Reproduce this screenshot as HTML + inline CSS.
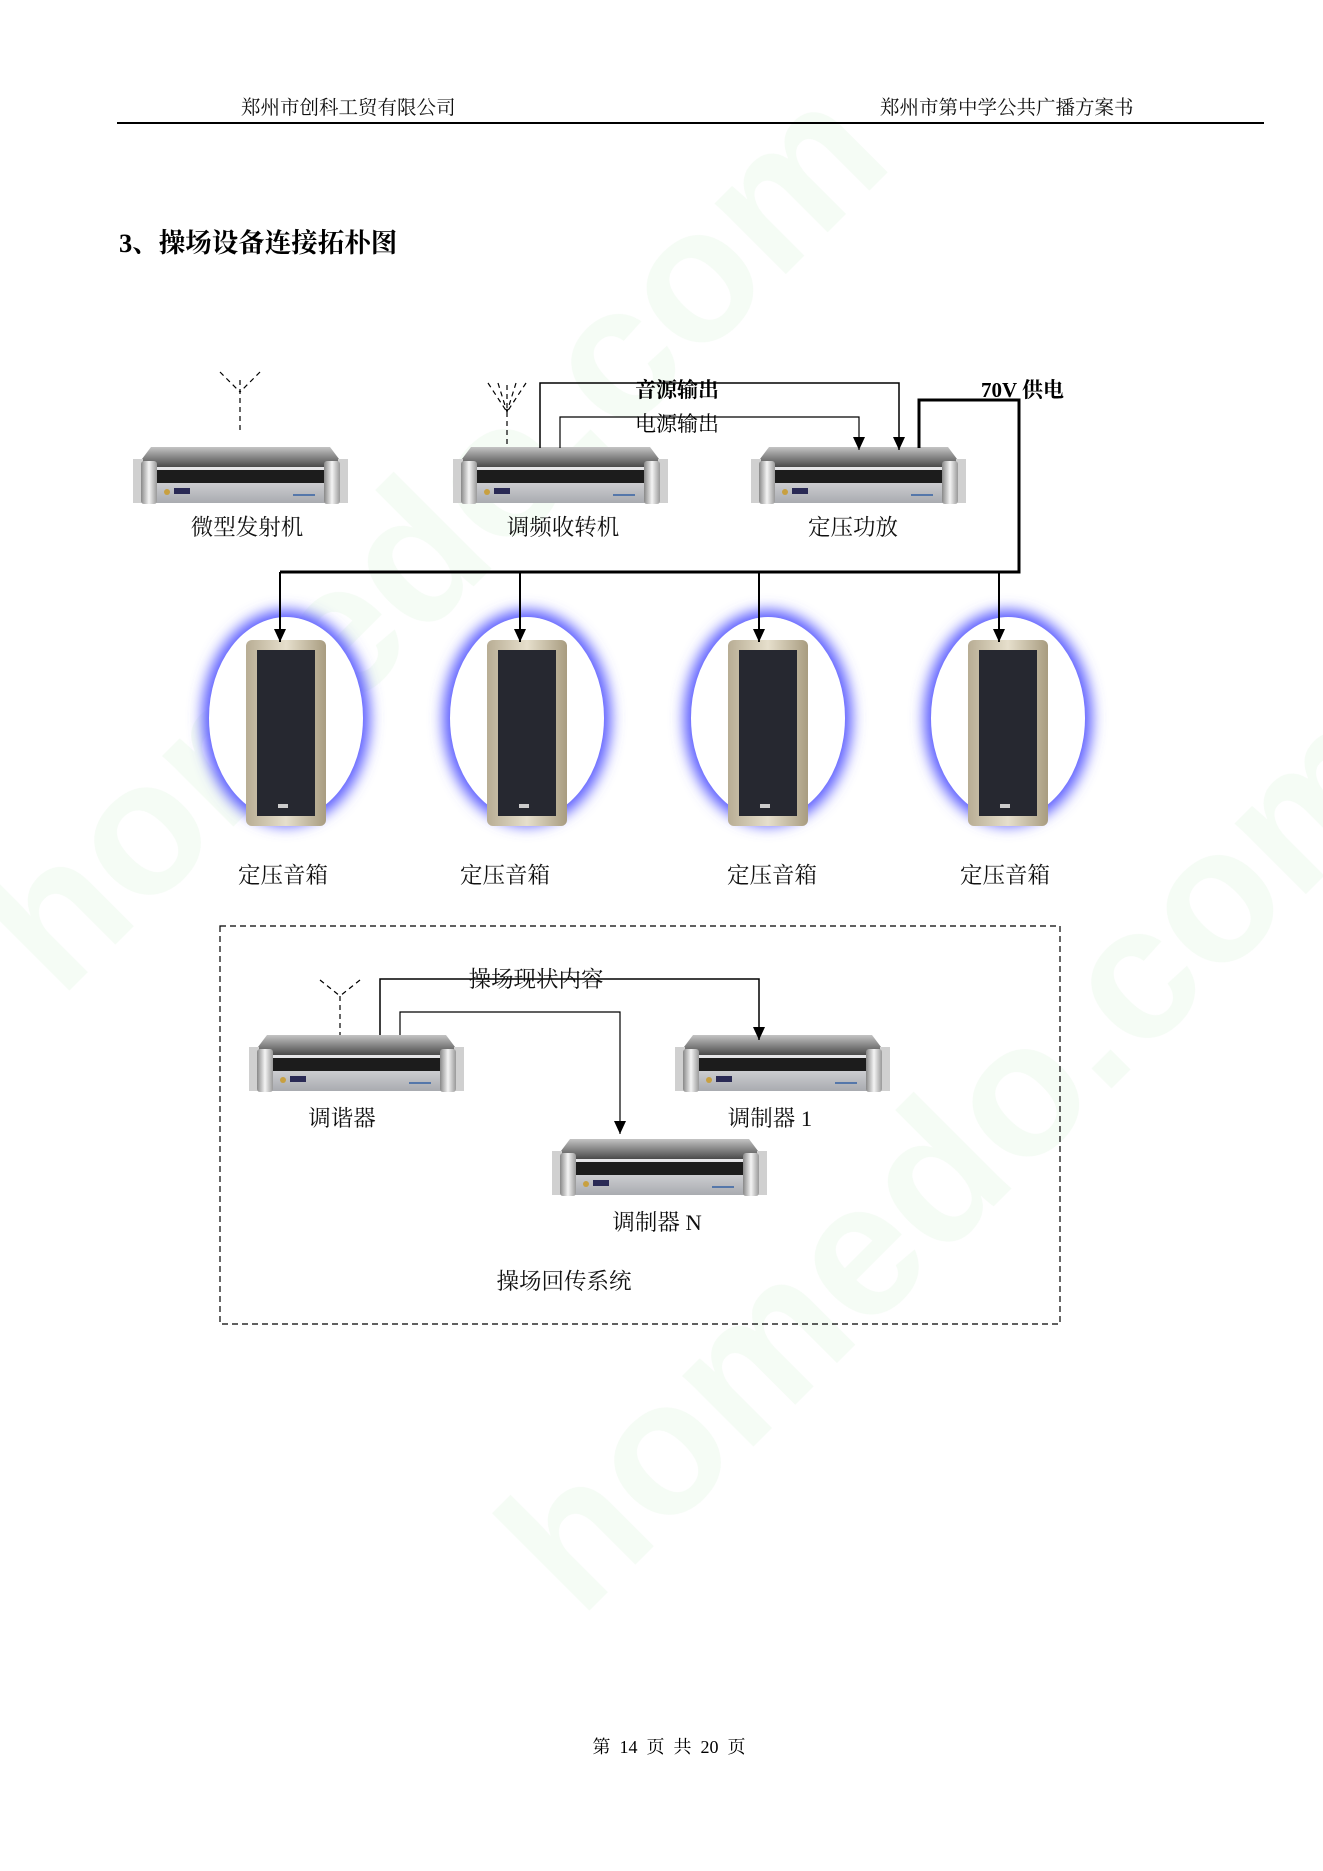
<!DOCTYPE html>
<html><head><meta charset="utf-8"><style>
html,body{margin:0;padding:0;background:#fff;}
body{width:1323px;height:1871px;position:relative;overflow:hidden;font-family:"Liberation Serif","Noto Serif CJK SC","Noto Sans CJK SC",serif;}
</style></head><body>
<svg width="1323" height="1871" viewBox="0 0 1323 1871" xmlns="http://www.w3.org/2000/svg" style="position:absolute;left:0;top:0">
<defs>
<linearGradient id="gt" x1="0" y1="0" x2="0" y2="1"><stop offset="0" stop-color="#c4c4c4"/><stop offset="1" stop-color="#4a4a4a"/></linearGradient>
<linearGradient id="gf" x1="0" y1="0" x2="0" y2="1"><stop offset="0" stop-color="#e8e8ea"/><stop offset="1" stop-color="#a9abb0"/></linearGradient>
<linearGradient id="gh" x1="0" y1="0" x2="1" y2="0"><stop offset="0" stop-color="#888"/><stop offset=".5" stop-color="#f4f4f4"/><stop offset="1" stop-color="#999"/></linearGradient>
<linearGradient id="gs" x1="0" y1="0" x2="1" y2="0"><stop offset="0" stop-color="#b8ad94"/><stop offset=".5" stop-color="#e6dfcc"/><stop offset="1" stop-color="#a89c80"/></linearGradient>
<filter id="blur" x="-30%" y="-30%" width="160%" height="160%"><feGaussianBlur stdDeviation="7"/></filter>
<marker id="ar" markerWidth="14" markerHeight="12" refX="13" refY="6" orient="auto" markerUnits="userSpaceOnUse"><path d="M0,0 L13,6 L0,12 Z" fill="#000"/></marker>
<g id="rack">
<polygon points="18,0 197,0 212,20 3,20" fill="url(#gt)"/>
<rect x="3" y="20" width="209" height="36" fill="url(#gf)"/>
<rect x="24" y="23" width="168" height="13" fill="#1c1c1c"/>
<rect x="0" y="12" width="10" height="44" fill="#d0d0d0"/>
<rect x="205" y="12" width="10" height="44" fill="#d0d0d0"/>
<rect x="8" y="14" width="16" height="43" rx="3" fill="url(#gh)"/>
<rect x="191" y="14" width="16" height="43" rx="3" fill="url(#gh)"/>
<circle cx="34" cy="45" r="3" fill="#c8a040"/>
<rect x="41" y="41" width="16" height="6" fill="#2a2a55"/>
<rect x="160" y="47" width="22" height="2" fill="#5577aa"/>
</g>
<g id="spk">
<ellipse cx="0" cy="0" rx="84" ry="108" fill="#5a5cff" filter="url(#blur)"/>
<ellipse cx="0" cy="0" rx="77" ry="101" fill="#fff"/>
<rect x="-40" y="-78" width="80" height="186" rx="6" fill="url(#gs)"/>
<rect x="-29" y="-68" width="58" height="166" fill="#262830"/>
<rect x="-8" y="86" width="10" height="4" fill="#ccc"/>
</g>
</defs>

<g opacity="0.07" font-family="Liberation Sans, sans-serif" font-weight="bold" font-size="190">
<text x="60" y="1000" transform="rotate(-45 60 1000)" fill="#6c6">homedo.com</text>
<text x="580" y="1620" transform="rotate(-45 580 1620)" fill="#6c6">homedo.com</text>
</g>

<g font-size="19.5" fill="#111">
<text x="241" y="114">郑州市创科工贸有限公司</text>
<text x="880" y="114">郑州市第中学公共广播方案书</text>
</g>
<line x1="117" y1="123" x2="1264" y2="123" stroke="#000" stroke-width="2"/>
<text x="119" y="252" font-size="26.5" font-weight="bold" fill="#000">3、操场设备连接拓朴图</text>

<g stroke="#000" stroke-width="1.2" stroke-dasharray="5,4" fill="none">
<line x1="240" y1="380" x2="240" y2="430"/><line x1="220" y1="372" x2="240" y2="392"/><line x1="260" y1="372" x2="240" y2="392"/>
<line x1="507" y1="385" x2="507" y2="448"/><line x1="488" y1="383" x2="507" y2="412"/><line x1="526" y1="383" x2="507" y2="412"/><line x1="498" y1="383" x2="507" y2="412"/><line x1="516" y1="383" x2="507" y2="412"/>
<line x1="340" y1="996" x2="340" y2="1035"/><line x1="320" y1="980" x2="340" y2="996"/><line x1="360" y1="980" x2="340" y2="996"/>
</g>

<use href="#rack" x="133" y="447"/>
<use href="#rack" x="453" y="447"/>
<use href="#rack" x="751" y="447"/>
<use href="#rack" x="249" y="1035"/>
<use href="#rack" x="675" y="1035"/>
<use href="#rack" x="552" y="1139"/>

<use href="#spk" x="286" y="718"/>
<use href="#spk" x="527" y="718"/>
<use href="#spk" x="768" y="718"/>
<use href="#spk" x="1008" y="718"/>

<g stroke="#000" fill="none">
<polyline points="540,448 540,383 899,383 899,450" stroke-width="1.5" marker-end="url(#ar)"/>
<polyline points="560,448 560,417 859,417 859,450" stroke-width="1.2" marker-end="url(#ar)"/>
<polyline points="919,448 919,400 1019,400 1019,572 280,572" stroke-width="3"/>
<line x1="280" y1="572" x2="280" y2="642" stroke-width="2" marker-end="url(#ar)"/>
<line x1="520" y1="572" x2="520" y2="642" stroke-width="2" marker-end="url(#ar)"/>
<line x1="759" y1="572" x2="759" y2="642" stroke-width="2" marker-end="url(#ar)"/>
<line x1="999" y1="572" x2="999" y2="642" stroke-width="2" marker-end="url(#ar)"/>
<polyline points="380,1035 380,979 759,979 759,1040" stroke-width="1.5" marker-end="url(#ar)"/>
<polyline points="400,1035 400,1012 620,1012 620,1134" stroke-width="1.2" marker-end="url(#ar)"/>
</g>
<g font-size="21" fill="#000">
<text x="635" y="397" font-weight="bold">音源输出</text>
<text x="635" y="431">电源输出</text>
<text x="981" y="397" font-weight="bold">70V 供电</text>
</g>

<g font-size="22.5" fill="#111" text-anchor="middle">
<text x="247" y="535">微型发射机</text>
<text x="563" y="535">调频收转机</text>
<text x="853" y="535">定压功放</text>
<text x="283" y="883">定压音箱</text>
<text x="505" y="883">定压音箱</text>
<text x="772" y="883">定压音箱</text>
<text x="1005" y="883">定压音箱</text>
<text x="536" y="987">操场现状内容</text>
<text x="342" y="1126">调谐器</text>
<text x="770" y="1126">调制器 1</text>
<text x="657" y="1230">调制器 N</text>
<text x="564" y="1289">操场回传系统</text>
</g>

<rect x="220" y="926" width="840" height="398" fill="none" stroke="#000" stroke-width="1.2" stroke-dasharray="6,4"/>

<text x="669" y="1753" font-size="18" text-anchor="middle" fill="#000" xml:space="preserve">第  14  页  共  20  页</text>
</svg>
</body></html>
